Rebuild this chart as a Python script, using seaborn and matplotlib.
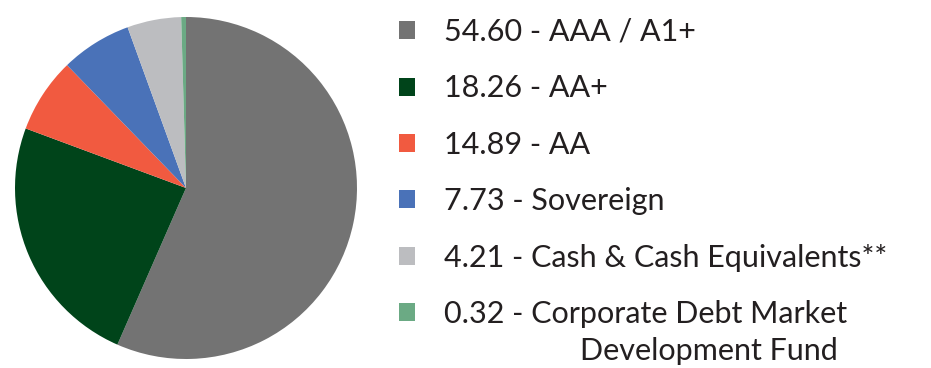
import matplotlib.pyplot as plt
import seaborn as sns

sns.set_theme(style="white")
plt.rcParams['font.family'] = ['Lato', 'DejaVu Sans']

# legend values (as printed) and slice shares (as drawn)
values = ["54.60", "18.26", "14.89", "7.73", "4.21", "0.32"]
categories = ["AAA / A1+", "AA+", "AA", "Sovereign", "Cash & Cash Equivalents**",
              "Corporate Debt Market"]
last_line2 = "Development Fund"
slice_share = [56.6, 24.1, 7.1, 6.7, 5.1, 0.45]
colors = ["#737373", "#00441A", "#F15A40", "#4A72B8", "#BCBDC0", "#6BAA84"]

labels = [f"{v} - {c}" for v, c in zip(values, categories)]
text_color = "#231F20"
fsize = 22

fig = plt.figure(figsize=(9.31, 3.68), dpi=100)
ax = fig.add_axes([15 / 931, 9 / 368, 342 / 931, 342 / 368])
wedges, _ = ax.pie(slice_share, colors=colors, startangle=90, counterclock=False,
                   wedgeprops=dict(linewidth=0))
ax.set_xlim(-1, 1)
ax.set_ylim(-1, 1)
ax.set_aspect('equal')

leg = fig.legend(wedges, labels, loc='upper left', bbox_to_anchor=(399 / 931, 1 - 18 / 368),
                 frameon=False, fontsize=fsize, handlelength=0.53, handleheight=0.53,
                 handletextpad=0.95, labelspacing=0.93, borderpad=0, borderaxespad=0,
                 labelcolor=text_color)

# second line of the last label, hanging under the first
fig.canvas.draw()
ax.annotate(last_line2, xy=(1, 0.5), xycoords=leg.get_texts()[-1],
            xytext=(-9, -37), textcoords='offset pixels', ha='right', va='center',
            fontsize=fsize, color=text_color, annotation_clip=False)

fig.savefig("out.png", dpi=100)
